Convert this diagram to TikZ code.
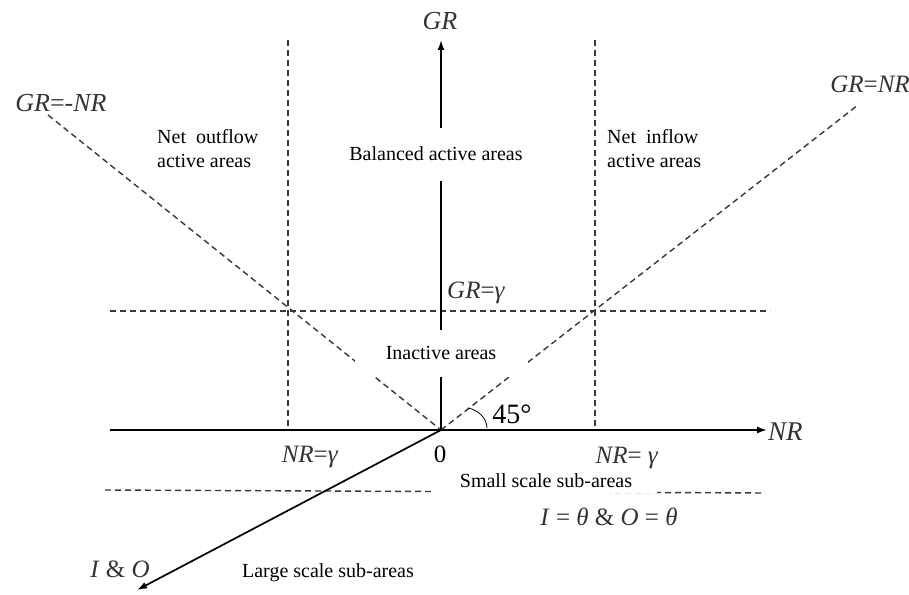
\documentclass[tikz,border=0pt]{standalone}
\usepackage{fontspec}
\setmainfont{Liberation Serif}
\newfontfamily\degfont{Liberation Serif}
\usetikzlibrary{arrows.meta}
\begin{document}
\begin{tikzpicture}[x=1pt,y=-1pt,
  axis/.style={line width=1.7pt,draw=black},
  tipaxis/.style={-{Latex[length=10pt,width=7pt]}},
  guide/.style={dash pattern=on 6pt off 4pt, line width=1.4pt, draw=black!78},
  txt/.style={font=\fontsize{20}{24}\selectfont, inner sep=0pt, text=black},
  mlab/.style={font=\fontsize{25}{27}\selectfont, inner sep=0pt, text=black!80},
  cover/.style={fill=white, inner sep=0pt}]
\useasboundingbox (0,0) rectangle (909,594);
% coordinates
\coordinate (O) at (441,430);
\coordinate (GRtip) at (441,40);
\coordinate (NRstart) at (110,430);
\coordinate (NRtip) at (767,430);
\coordinate (IOtip) at (137,590);
\coordinate (Lend) at (48,115);
\coordinate (Rend) at (858,105);
\coordinate (V1t) at (288,40);
\coordinate (V1b) at (288,430);
\coordinate (V2t) at (595,40);
\coordinate (V2b) at (595,430);
\coordinate (Ha) at (110,311);
\coordinate (Hb) at (770,311);
\coordinate (La) at (105,490);
\coordinate (Lb) at (765,493);
\coordinate (ArcA) at (468,408);
\coordinate (ArcB) at (487,428);
% dashed guides
\draw[guide] (V1t) -- (V1b);
\draw[guide] (V2t) -- (V2b);
\draw[guide] (Ha) -- (Hb);
\draw[guide] (La) -- (Lb);
\draw[guide] (Lend) -- (O);
\draw[guide] (O) -- (Rend);
% axes
\draw[axis,tipaxis] (O) -- (GRtip);
\draw[axis,tipaxis] (NRstart) -- (NRtip);
\draw[axis,tipaxis] (O) -- (IOtip);
% 45 degree arc
\draw[line width=0.8pt] (ArcA) .. controls (478,410) and (487,418) .. (ArcB);
% region labels (white boxes)
\node[txt,cover,minimum width=192pt,minimum height=53pt] (bal) at (436,154) {Balanced active areas};
\node[txt,cover,minimum width=173pt,minimum height=47pt] (inact) at (441,353) {Inactive areas};
\node[txt,cover,minimum width=222pt,minimum height=24pt] (small) at (546,481) {Small scale sub-areas};
\node[txt,anchor=north west,align=left] (out) at (157,129) {Net\ \ outflow\\active areas};
\node[txt,anchor=north west,align=left] (in) at (607,129) {Net\ \ inflow\\active areas};
\node[txt,anchor=base] (large) at (328,577) {Large scale sub-areas};
% math labels
\node[mlab,anchor=base,font=\fontsize{26}{28}\selectfont] (GR) at (440,30) {\textit{GR}};
\node[mlab,anchor=base west,font=\fontsize{27}{29}\selectfont] (NR) at (768,440) {\textit{NR}};
\node[mlab,anchor=base,font=\fontsize{26}{28}\selectfont] (GRmNR) at (61,111) {\textit{GR}=-\textit{NR}};
\node[mlab,anchor=base] (GReNR) at (870,92) {\textit{GR}=\textit{NR}};
\node[mlab,anchor=base west] (GRg) at (447,298) {\textit{GR}=\textit{γ}};
\node[mlab,anchor=base] (NRgl) at (310,462) {\textit{NR}=\textit{γ}};
\node[mlab,anchor=base,text=black,font=\degfont\fontsize{25}{27}\selectfont] (zero) at (440,462) {0};
\node[mlab,anchor=base] (NRgr) at (627,463) {\textit{NR}= \textit{γ}};
\node[mlab,anchor=base] (IO0) at (609,525) {\textit{I} = \textit{θ} \& \textit{O} = \textit{θ}};
\node[mlab,anchor=base] (IO) at (120,577) {\textit{I} \& \textit{O}};
\node[mlab,anchor=base,text=black,font=\degfont\fontsize{28}{30}\selectfont] (deg) at (512,423) {45°};
\end{tikzpicture}
\end{document}
